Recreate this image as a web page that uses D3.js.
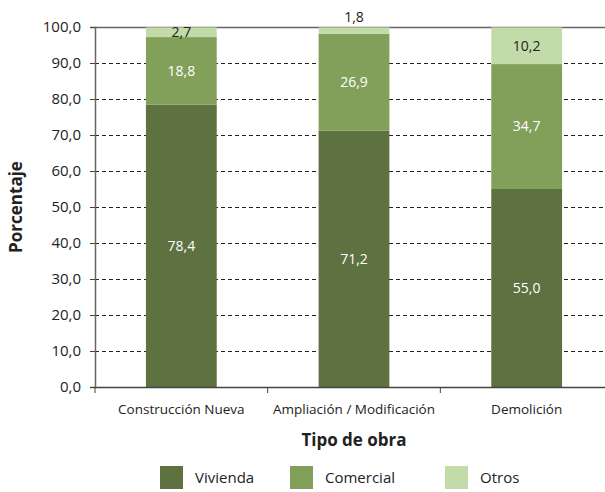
<!DOCTYPE html>
<meta charset="utf-8">
<script src="https://cdn.jsdelivr.net/npm/d3@7"></script>
<style>
  body { margin: 0; background: #fff; }
  text { font-family: "Open Sans", sans-serif; }
</style>
<body>
<script>

// Chart values
var categories = ["Construcción Nueva", "Ampliación / Modificación", "Demolición"];
var vivienda = [78.4, 71.2, 55.0];
var comercial = [18.8, 26.9, 34.7];
var otros = [2.7, 1.8, 10.2];
var seriesNames = ["Vivienda", "Comercial", "Otros"];
var yTicks = [0, 10, 20, 30, 40, 50, 60, 70, 80, 90, 100];

var colors = ["#5e7140", "#83a05a", "#c3dba8"];
var labelColors = ["#ffffff", "#ffffff", "#222222"];

var margin = {top: 27, right: 0, bottom: 105, left: 95},
    width = 605 - margin.left - margin.right,
    height = 492 - margin.top - margin.bottom;

var svg = d3.select("body").append("svg")
    .attr("width", 605)
    .attr("height", 492);

var g = svg.append("g")
    .attr("transform", "translate(" + margin.left + "," + margin.top + ")");

// Build stacked rows from the arrays
var rows = categories.map(function(c, i) {
  return {cat: c, Vivienda: vivienda[i], Comercial: comercial[i], Otros: otros[i]};
});
var stacked = d3.stack().keys(seriesNames)(rows);

var x = d3.scaleBand()
    .domain(categories)
    .range([0, width + 8])
    .paddingInner(0.59)
    .paddingOuter(0.295);

var y = d3.scaleLinear()
    .domain([0, 100])
    .range([height, 0]);

// Gridlines
g.selectAll(".grid")
    .data(yTicks.filter(function(t) { return t > 0 && t < 100; }))
  .enter().append("line")
    .attr("x1", 0)
    .attr("x2", width)
    .attr("y1", function(d) { return y(d) + 0.5; })
    .attr("y2", function(d) { return y(d) + 0.5; })
    .attr("stroke", "#222")
    .attr("stroke-width", 1)
    .attr("stroke-dasharray", "4,3");

// top border line
g.append("line")
    .attr("x1", 0).attr("x2", width)
    .attr("y1", y(100) + 0.5).attr("y2", y(100) + 0.5)
    .attr("stroke", "#666").attr("stroke-width", 1.5);

// Bars
var layer = g.selectAll(".layer")
    .data(stacked)
  .enter().append("g")
    .attr("fill", function(d, i) { return colors[i]; });

layer.selectAll("rect")
    .data(function(d) { return d; })
  .enter().append("rect")
    .attr("x", function(d) { return x(d.data.cat); })
    .attr("y", function(d) { return y(d[1]); })
    .attr("height", function(d) { return y(d[0]) - y(d[1]); })
    .attr("width", x.bandwidth());

// Value labels
var fmt = function(v) { return d3.format(".1f")(v).replace(".", ","); };
stacked.forEach(function(s, si) {
  g.selectAll(".lbl" + si)
      .data(s)
    .enter().append("text")
      .attr("x", function(d) { return x(d.data.cat) + x.bandwidth() / 2; })
      .attr("y", function(d) {
        var v = d[1] - d[0];
        if (v < 2) return y(d[1]) - 10;
        return (y(d[0]) + y(d[1])) / 2;
      })
      .attr("dy", "0.35em")
      .attr("text-anchor", "middle")
      .attr("font-size", "14px")
      .attr("fill", function(d) { return (d[1] - d[0]) < 2 ? "#222" : labelColors[si]; })
      .text(function(d) { return fmt(d[1] - d[0]); });
});

// Y axis
var yAxis = g.append("g")
    .call(d3.axisLeft(y).tickValues(yTicks).tickSize(5).tickFormat(fmt));
yAxis.select(".domain").attr("stroke", "#666").attr("stroke-width", 1.5);
yAxis.selectAll(".tick line").attr("stroke", "#444");
yAxis.selectAll("text").attr("font-size", "15px").attr("fill", "#222")
    .attr("font-family", "Open Sans").attr("dx", "-6");

// X axis
var xTickScale = d3.scaleLinear().domain([0, 3]).range([0, width + 8]);
var xAxis = g.append("g")
    .attr("transform", "translate(0," + height + ")");
xAxis.append("line")
    .attr("x1", 0).attr("x2", width)
    .attr("y1", 0.5).attr("y2", 0.5)
    .attr("stroke", "#444").attr("stroke-width", 1.5);
xAxis.selectAll(".xt")
    .data([0, 1, 2])
  .enter().append("line")
    .attr("x1", function(d) { return xTickScale(d); })
    .attr("x2", function(d) { return xTickScale(d); })
    .attr("y1", 0).attr("y2", 6)
    .attr("stroke", "#444");
xAxis.selectAll(".xl")
    .data(categories)
  .enter().append("text")
    .attr("x", function(d) { return x(d) + x.bandwidth() / 2; })
    .attr("y", 27)
    .attr("text-anchor", "middle")
    .attr("font-size", "13.5px")
    .attr("fill", "#222")
    .text(function(d) { return d; });

// Axis titles
svg.append("text")
    .attr("x", margin.left + (width + 8) / 2)
    .attr("y", 446)
    .attr("text-anchor", "middle")
    .attr("font-size", "17px")
    .attr("font-weight", "bold")
    .attr("fill", "#222")
    .text("Tipo de obra");

svg.append("text")
    .attr("transform", "translate(22," + (margin.top + height / 2) + ") rotate(-90)")
    .attr("text-anchor", "middle")
    .attr("font-size", "17px")
    .attr("font-weight", "bold")
    .attr("fill", "#222")
    .text("Porcentaje");

// Legend
var legendX = [160, 290, 445];
var legend = svg.selectAll(".legend")
    .data(seriesNames)
  .enter().append("g")
    .attr("transform", function(d, i) { return "translate(" + legendX[i] + ",466)"; });
legend.append("rect")
    .attr("width", 23).attr("height", 23)
    .attr("fill", function(d, i) { return colors[i]; });
legend.append("text")
    .attr("x", 35).attr("y", 12)
    .attr("dy", "0.35em")
    .attr("font-size", "15px")
    .attr("fill", "#222")
    .text(function(d) { return d; });

</script>
</body>
